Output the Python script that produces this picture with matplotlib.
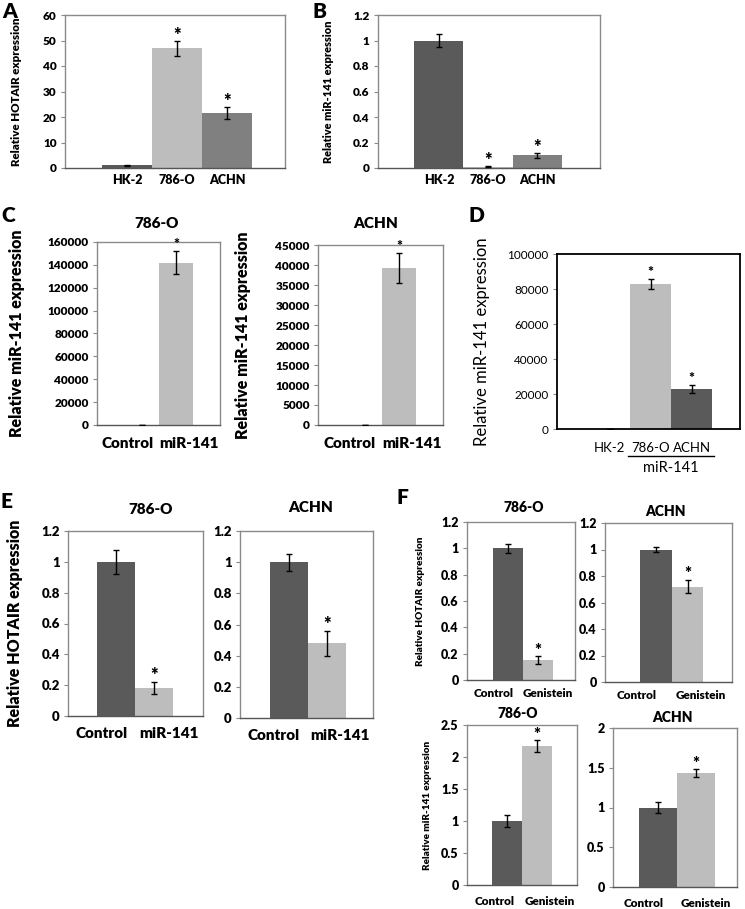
import numpy as np
import matplotlib
matplotlib.use('Agg')
import matplotlib.pyplot as plt
from matplotlib import transforms, font_manager

# pick a family that really has a bold face
FAMILY = 'DejaVu Sans'
for fam in ['Lato', 'Noto Sans', 'Open Sans', 'Liberation Sans']:
    try:
        path = font_manager.findfont(font_manager.FontProperties(family=fam, weight='bold'),
                                     fallback_to_default=False)
    except Exception:
        continue
    if 'bold' in path.lower():
        FAMILY = fam
        break
plt.rcParams['font.family'] = [FAMILY, 'DejaVu Sans']
BOLD = 'heavy'

W, H = 745, 909

DARK = '#5a5a5a'
LIGHT = '#bdbdbd'
MID = '#808080'

# A: HOTAIR in cell lines
cells = ['HK-2', '786-O', 'ACHN']
hotair_cells = [1.0, 47.0, 21.5]
hotair_cells_err = [0.3, 3.0, 2.3]
hotair_cells_sig = [False, True, True]

# B: miR-141 in cell lines
mir_cells = [1.0, 0.01, 0.1]
mir_cells_err = [0.05, 0.005, 0.02]
mir_cells_sig = [False, True, True]

# C: miR-141 after mimic transfection
groups_mir = ['Control', 'miR-141']
mir_786 = [1.0, 142000]
mir_786_err = [0, 10000]
mir_achn = [1.0, 39300]
mir_achn_err = [0, 3700]
sig_two = [False, True]

# D: miR-141 after transfection, all lines
mir_d = [1.0, 83000, 23000]
mir_d_err = [0, 3000, 2300]
mir_d_sig = [False, True, True]

# E: HOTAIR after miR-141
hotair_e_786 = [1.0, 0.18]
hotair_e_786_err = [0.08, 0.04]
hotair_e_achn = [1.0, 0.48]
hotair_e_achn_err = [0.055, 0.08]

# F: genistein treatment
groups_gen = ['Control', 'Genistein']
hotair_gen_786 = [1.0, 0.15]
hotair_gen_786_err = [0.035, 0.03]
hotair_gen_achn = [1.0, 0.72]
hotair_gen_achn_err = [0.02, 0.05]
mir_gen_786 = [1.0, 2.17]
mir_gen_786_err = [0.09, 0.09]
mir_gen_achn = [1.0, 1.43]
mir_gen_achn_err = [0.07, 0.05]

fig = plt.figure(figsize=(W / 100, H / 100), dpi=100)


def fmt(v, pos=None):
    return '{:g}'.format(round(v, 6))


def bar_panel(rect, labels, values, errors, colors, stars, ymax, ystep, xlim,
              ylabel=None, ylabel_x=None, fs_tick=8.5, fs_x=9, fs_ylab=8,
              xpad=4, weight=BOLD, spine='#8a8a8a', star_fs=13, quarter=False):
    l, t, r, b = rect
    ax = fig.add_axes([l / W, 1 - b / H, (r - l) / W, (b - t) / H])
    x = np.arange(len(values))
    ax.bar(x, values, width=1.0, color=colors, zorder=2)
    ax.errorbar(x, values, yerr=errors, fmt='none', ecolor='black',
                elinewidth=1.0, capsize=2.5, capthick=1.0, zorder=3)
    for xi, v, e, s in zip(x, values, errors, stars):
        if s:
            ax.text(xi, v + e + 0.035 * ymax, '*', ha='center', va='center',
                    fontsize=star_fs, fontweight=BOLD)
    ax.set_xlim(*xlim)
    ax.set_ylim(0, ymax)
    ax.set_yticks(np.arange(0, ymax + ystep / 2, ystep))
    ax.yaxis.set_major_formatter(plt.FuncFormatter(fmt))
    if quarter:
        # Excel places the two category labels at the quarter points
        n = len(values)
        ticks = [xlim[0] + (i + 0.5) / n * (xlim[1] - xlim[0]) for i in range(n)]
    else:
        ticks = x
    ax.set_xticks(ticks)
    ax.set_xticklabels(labels, fontsize=fs_x, fontweight=weight)
    for lab in ax.get_yticklabels():
        lab.set_fontsize(fs_tick)
        lab.set_fontweight(weight)
    ax.tick_params(axis='x', length=0, pad=xpad)
    ax.tick_params(axis='y', length=3, width=0.8, color='#8a8a8a', pad=3)
    for sp in ax.spines.values():
        sp.set_color(spine)
        sp.set_linewidth(1.0)
    ax.spines['bottom'].set_color('#555555' if spine != 'black' else 'black')
    if ylabel:
        ax.set_ylabel(ylabel, fontsize=fs_ylab, fontweight=weight)
        ax.yaxis.set_label_coords((ylabel_x - l) / (r - l), 0.5)
    return ax


def title_at(txt, x, y, fs=9):
    fig.text(x / W, 1 - y / H, txt, ha='center', va='center',
             fontsize=fs, fontweight=BOLD)


def letter(txt, x, y):
    fig.text(x / W, 1 - y / H, txt, ha='left', va='center',
             fontsize=15, fontweight=BOLD)


# A
bar_panel((65, 15, 285, 168), cells, hotair_cells, hotair_cells_err,
          [DARK, LIGHT, MID], hotair_cells_sig, 60, 10, (-1.24, 3.16),
          'Relative HOTAIR expression', 22, fs_tick=8.5, fs_x=9, fs_ylab=8.3)
letter('A', 2, 11)

# B
bar_panel((378, 15, 600, 168), cells, mir_cells, mir_cells_err,
          [DARK, LIGHT, MID], mir_cells_sig, 1.2, 0.2, (-1.24, 3.28),
          'Relative miR-141 expression', 334, fs_tick=8.5, fs_x=9, fs_ylab=7.9)
letter('B', 312, 11)

# C
bar_panel((97, 242, 220, 425), groups_mir, mir_786, mir_786_err,
          [DARK, LIGHT], sig_two, 160000, 20000, (-1.32, 2.29),
          'Relative miR-141 expression', 25, fs_tick=8.5, fs_x=11,
          fs_ylab=11.5, xpad=9, star_fs=10, quarter=True)
title_at('786-O', 157, 223, 11)
bar_panel((318, 245, 443, 425), groups_mir, mir_achn, mir_achn_err,
          [DARK, LIGHT], sig_two, 45000, 5000, (-1.38, 2.29),
          'Relative miR-141 expression', 251, fs_tick=8.5, fs_x=11,
          fs_ylab=11.5, xpad=9, star_fs=10, quarter=True)
title_at('ACHN', 376, 223, 11)
letter('C', 1, 215)

# D
axd = bar_panel((557, 254, 740, 429), cells, mir_d, mir_d_err,
                [DARK, LIGHT, DARK], mir_d_sig, 100000, 20000, (-1.28, 3.18),
                'Relative miR-141 expression', 490, fs_tick=8.5, fs_x=9.5,
                fs_ylab=12, xpad=9, weight='normal', spine='black', star_fs=10)
for sp in axd.spines.values():
    sp.set_linewidth(1.3)
blend = transforms.blended_transform_factory(axd.transData, axd.transAxes)
axd.plot([0.45, 2.55], [-0.155, -0.155], color='black', lw=1.0,
         transform=blend, clip_on=False)
axd.text(1.5, -0.22, 'miR-141', transform=blend, ha='center', va='center',
         fontsize=10.5)
letter('D', 469, 215)

# E
bar_panel((68, 531, 203, 716), groups_mir, hotair_e_786, hotair_e_786_err,
          [DARK, LIGHT], sig_two, 1.2, 0.2, (-1.26, 2.29),
          'Relative HOTAIR expression', 23, fs_tick=9.5, fs_x=11,
          fs_ylab=11.5, xpad=8, quarter=True)
title_at('786-O', 151, 510, 11)
bar_panel((240, 531, 373, 718), groups_mir, hotair_e_achn, hotair_e_achn_err,
          [DARK, LIGHT], sig_two, 1.2, 0.2, (-1.29, 2.21),
          fs_tick=9.5, fs_x=11, xpad=8, quarter=True)
title_at('ACHN', 311, 508, 11)
letter('E', 1, 502)

# F
bar_panel((467, 522, 575, 680), groups_gen, hotair_gen_786, hotair_gen_786_err,
          [DARK, LIGHT], sig_two, 1.2, 0.2, (-1.37, 2.23),
          'Relative HOTAIR expression', 425, fs_tick=9, fs_x=8.5, fs_ylab=7.2,
          xpad=6, star_fs=12, quarter=True)
title_at('786-O', 524, 508, 10)
bar_panel((605, 523, 732, 682), groups_gen, hotair_gen_achn, hotair_gen_achn_err,
          [DARK, LIGHT], sig_two, 1.2, 0.2, (-1.6, 2.4),
          fs_tick=9, fs_x=8.5, xpad=6, star_fs=12, quarter=True)
title_at('ACHN', 665, 511, 10)
bar_panel((467, 725, 577, 885), groups_gen, mir_gen_786, mir_gen_786_err,
          [DARK, LIGHT], sig_two, 2.5, 0.5, (-1.33, 2.33),
          'Relative miR-141 expression', 432, fs_tick=9, fs_x=8.5, fs_ylab=7.2,
          xpad=8, star_fs=12, quarter=True)
title_at('786-O', 518, 713, 10)
bar_panel((613, 728, 737, 887), groups_gen, mir_gen_achn, mir_gen_achn_err,
          [DARK, LIGHT], sig_two, 2.0, 0.5, (-1.18, 2.08),
          fs_tick=9, fs_x=8.5, xpad=8, star_fs=12, quarter=True)
title_at('ACHN', 672, 717, 10)
letter('F', 397, 498)

fig.savefig('out.png', dpi=100)
